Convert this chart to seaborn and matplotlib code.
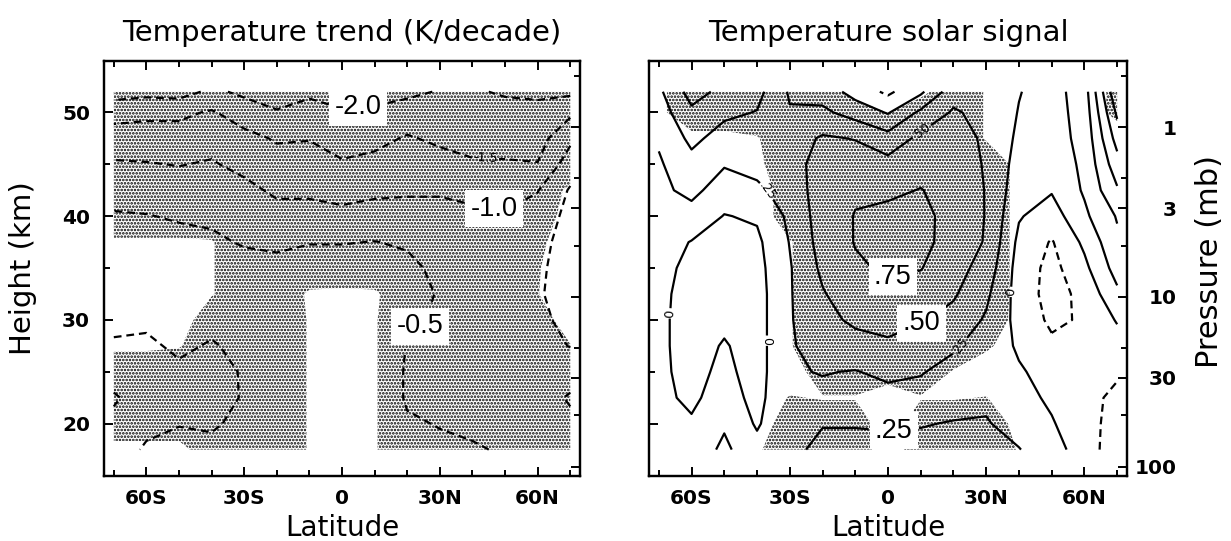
import numpy as np
import matplotlib
matplotlib.use("Agg")
import matplotlib.pyplot as plt
from matplotlib.ticker import MultipleLocator, FixedLocator, NullFormatter
import seaborn as sns

# ---------------------------------------------------------------- data grid
latitudes = [-70, -60, -50, -40, -30, -20, -10, 0, 10, 20, 30, 40, 50, 60, 70]
heights_km = [17.5, 20, 22.5, 25, 27.5, 30, 32.5, 35, 37.5, 40, 42.5, 45, 47.5, 50, 52]

# Temperature trend (K/decade): one row per latitude, values from bottom to top
trend = [
    [-0.90, -0.90, -1.05, -0.80, -0.55, -0.40, -0.35, -0.35, -0.40, -0.45, -0.70, -0.95, -1.25, -1.70, -2.20],
    [-0.40, -0.70, -0.80, -0.75, -0.60, -0.40, -0.30, -0.30, -0.35, -0.48, -0.72, -0.97, -1.30, -1.60, -2.15],
    [-0.35, -0.52, -0.65, -0.60, -0.40, -0.30, -0.25, -0.25, -0.35, -0.55, -0.75, -1.02, -1.30, -1.60, -2.20],
    [-0.40, -0.55, -0.65, -0.70, -0.55, -0.35, -0.25, -0.25, -0.40, -0.60, -0.80, -0.95, -1.20, -1.45, -1.90],
    [-0.35, -0.40, -0.47, -0.45, -0.35, -0.30, -0.25, -0.30, -0.55, -0.70, -0.85, -1.15, -1.35, -1.75, -2.10],
    [-0.30, -0.30, -0.30, -0.30, -0.28, -0.25, -0.25, -0.35, -0.60, -0.80, -1.10, -1.30, -1.55, -1.95, -2.30],
    [-0.20, -0.20, -0.20, -0.20, -0.20, -0.20, -0.20, -0.30, -0.52, -0.80, -1.10, -1.30, -1.52, -1.80, -2.10],
    [-0.15, -0.15, -0.15, -0.15, -0.15, -0.15, -0.18, -0.30, -0.52, -0.85, -1.20, -1.45, -1.70, -1.95, -2.20],
    [-0.15, -0.15, -0.15, -0.15, -0.15, -0.15, -0.18, -0.30, -0.49, -0.80, -1.10, -1.35, -1.65, -1.93, -2.15],
    [-0.40, -0.45, -0.55, -0.55, -0.52, -0.40, -0.35, -0.40, -0.55, -0.85, -1.05, -1.25, -1.45, -1.80, -2.10],
    [-0.42, -0.52, -0.60, -0.65, -0.62, -0.58, -0.53, -0.60, -0.70, -0.85, -1.05, -1.30, -1.60, -1.85, -1.97],
    [-0.45, -0.60, -0.70, -0.72, -0.72, -0.70, -0.70, -0.72, -0.80, -0.92, -1.10, -1.45, -1.65, -1.80, -1.95],
    [-0.55, -0.65, -0.75, -0.80, -0.80, -0.78, -0.75, -0.75, -0.80, -0.95, -1.20, -1.45, -1.70, -1.85, -2.05],
    [-0.65, -0.75, -0.80, -0.78, -0.70, -0.62, -0.55, -0.58, -0.65, -0.80, -1.02, -1.48, -1.70, -1.85, -2.10],
    [-0.75, -0.90, -1.05, -0.80, -0.48, -0.35, -0.30, -0.30, -0.30, -0.35, -0.45, -0.75, -1.10, -1.60, -2.10],
]
# Significance statistic of the trend (stippled where above 2)
trend_signif = [
    [1.5, 3, 3, 3, 1.75, 1, 1, 1, 1.8, 3, 3, 3, 3, 3, 3],
    [1.5, 3, 3, 3, 1.75, 1, 1, 1, 1.8, 3, 3, 3, 3, 3, 3],
    [1.5, 3, 3, 3, 1.9, 1.2, 1, 1, 1.8, 3, 3, 3, 3, 3, 3],
    [3, 3, 3, 3, 3, 3, 1.9, 1.9, 1.9, 3, 3, 3, 3, 3, 3],
    [3, 3, 3, 3, 3, 3, 3, 3, 3, 3, 3, 3, 3, 3, 3],
    [3, 3, 3, 3, 3, 3, 3, 3, 3, 3, 3, 3, 3, 3, 3],
    [1.9, 1.9, 1.9, 1.9, 1.9, 1.9, 1.8, 3, 3, 3, 3, 3, 3, 3, 3],
    [1, 1, 1, 1, 1, 1, 1.7, 3, 3, 3, 3, 3, 3, 3, 3],
    [1.9, 1.9, 1.9, 1.9, 1.9, 1.9, 1.8, 3, 3, 3, 3, 3, 3, 3, 3],
    [3, 3, 3, 3, 3, 3, 3, 3, 3, 3, 3, 3, 3, 3, 3],
    [3, 3, 3, 3, 3, 3, 3, 3, 3, 3, 3, 3, 3, 3, 3],
    [3, 3, 3, 3, 3, 3, 3, 3, 3, 3, 3, 3, 3, 3, 3],
    [3, 3, 3, 3, 3, 3, 3, 3, 3, 3, 3, 3, 3, 3, 3],
    [3, 3, 3, 3, 3, 3, 2.05, 2.11, 2.4, 3.4, 3, 3, 3, 3, 3],
    [3, 3, 3, 3, 2.1, 1, 1, 1, 1, 1, 1.7, 3, 3, 3, 3],
]

# Temperature solar signal (K): one row per latitude, values from bottom to top
solar = [
    [0.10, 0.08, 0.06, 0.05, 0.05, 0.05, 0.05, 0.06, 0.10, 0.15, 0.19, 0.22, 0.28, 0.38, 0.45],
    [0.10, 0.03, -0.05, -0.08, -0.10, -0.10, -0.08, -0.05, -0.01, 0.15, 0.32, 0.42, 0.56, 0.70, 0.85],
    [0.30, 0.22, 0.12, 0.06, 0.02, -0.05, -0.08, -0.08, -0.06, -0.01, 0.12, 0.27, 0.40, 0.55, 0.68],
    [0.08, -0.03, -0.08, -0.10, -0.10, -0.10, -0.10, -0.08, -0.05, 0.03, 0.20, 0.33, 0.42, 0.49, 0.58],
    [0.20, 0.22, 0.23, 0.23, 0.23, 0.23, 0.23, 0.23, 0.26, 0.30, 0.36, 0.40, 0.38, 0.27, 0.22],
    [0.30, 0.24, 0.20, 0.26, 0.33, 0.42, 0.48, 0.55, 0.60, 0.62, 0.62, 0.60, 0.53, 0.30, 0.15],
    [0.30, 0.24, 0.18, 0.24, 0.40, 0.55, 0.65, 0.72, 0.76, 0.76, 0.72, 0.62, 0.49, 0.15, -0.10],
    [0.30, 0.23, 0.18, 0.30, 0.45, 0.60, 0.70, 0.78, 0.85, 0.82, 0.70, 0.58, 0.35, -0.02, -0.30],
    [0.30, 0.24, 0.20, 0.26, 0.38, 0.52, 0.65, 0.76, 0.82, 0.82, 0.76, 0.65, 0.56, 0.30, -0.05],
    [0.28, 0.26, 0.18, 0.20, 0.27, 0.42, 0.53, 0.60, 0.65, 0.66, 0.65, 0.62, 0.58, 0.53, 0.40],
    [0.32, 0.27, 0.20, 0.15, 0.18, 0.22, 0.30, 0.40, 0.48, 0.49, 0.49, 0.48, 0.47, 0.42, 0.38],
    [0.26, 0.15, 0.08, 0.03, -0.04, -0.08, -0.10, -0.10, -0.06, 0.02, 0.10, 0.15, 0.20, 0.24, 0.26],
    [0.10, 0.02, -0.04, -0.10, -0.20, -0.30, -0.35, -0.33, -0.27, -0.12, 0.02, 0.10, 0.15, 0.15, 0.15],
    [-0.12, -0.15, -0.18, -0.22, -0.24, -0.22, -0.18, -0.06, 0.05, 0.20, 0.28, 0.30, 0.32, 0.35, 0.38],
    [-0.40, -0.35, -0.30, -0.22, -0.10, 0.02, 0.20, 0.35, 0.45, 0.52, 0.72, 0.90, 1.10, 1.30, 1.48],
]
# Significance statistic of the solar signal (stippled where above 2)
solar_signif = [
    [1, 1, 1, 1, 1, 1, 1, 1, 1, 1, 1, 1, 1, 1.67, 1.67],
    [1, 1, 1, 1, 1, 1, 1, 1, 1, 1, 1, 1, 1.6, 3, 3],
    [1, 1, 1, 1, 1, 1, 1, 1, 1, 1, 1, 1, 1.6, 3, 3],
    [1.8, 1, 1, 1, 1, 1, 1, 1, 1, 1, 1, 1.7, 1.9, 3, 3],
    [3, 3, 2.1, 1, 1.9, 1.9, 1.9, 1.9, 1.9, 3, 3, 3, 3, 3, 3],
    [3, 3, 1.9, 3, 3, 3, 3, 3, 3, 3, 3, 3, 3, 3, 3],
    [3, 3, 1.9, 3, 3, 3, 3, 3, 3, 3, 3, 3, 3, 3, 1.4],
    [1, 1, 1, 3, 3, 3, 3, 3, 3, 3, 3, 3, 3, 1.95, 1],
    [3, 3, 1.9, 3, 3, 3, 3, 3, 3, 3, 3, 3, 3, 3, 1.6],
    [3, 3, 1.9, 1.9, 3, 3, 3, 3, 3, 3, 3, 3, 3, 3, 3],
    [3, 3, 2.05, 1, 2.3, 3, 3, 3, 3, 3, 3, 3, 1.9, 1.9, 1.9],
    [1.9, 1.5, 1, 1, 1, 1.5, 1.6, 1.6, 1.6, 1.6, 1.6, 1.6, 1, 1, 1],
    [1, 1, 1, 1, 1, 1, 1, 1, 1, 1, 1, 1, 1, 1, 1],
    [1, 1, 1, 1, 1, 1, 1, 1, 1, 1, 1, 1, 1, 1, 1],
    [1, 1, 1, 1, 1, 1, 1, 1, 1, 1, 1, 1, 1, 2.5, 2.5],
]

lat_ticks = [-60, -30, 0, 30, 60]
lat_labels = ["60S", "30S", "0", "30N", "60N"]
height_ticks = [20, 30, 40, 50]
pressure_ticks = [1, 3, 10, 30, 100]
pressure_minor = [0.5, 2, 5, 20, 50]
trend_levels = [-2.0, -1.5, -1.0, -0.5]
solar_levels = [-0.5, -0.25, 0.0, 0.25, 0.5, 0.75, 1.0, 1.25, 1.5]
signif_threshold = 2.0

# contour label spots: level -> (big boxed labels, small inline labels)
trend_label_spots = {
    -2.0: ([(5, 50.2)], []),
    -1.5: ([], [(44, 45.6)]),
    -1.0: ([(46.6, 40.8)], []),
    -0.5: ([(23.8, 29.4)], []),
}
solar_label_spots = {
    0.0: ([], [(-64.5, 30.6), (-36.5, 28), (37.8, 32.7)]),
    0.25: ([(1.8, 19.3)], [(-36.5, 42.5), (22, 27.5)]),
    0.5: ([(10, 29.8)], [(10, 48.3)]),
    0.75: ([(1.2, 34.5)], []),
}


def height_from_pressure(p_mb):
    """Log-pressure height (km), scale height 7.1 km."""
    return 7.1 * np.log(935.0 / np.asarray(p_mb, dtype=float))


# ---------------------------------------------------------------- style
sns.set_theme(style="ticks", rc={
    "axes.edgecolor": "black",
    "axes.linewidth": 1.6,
    "axes.labelcolor": "black",
    "text.color": "black",
    "xtick.color": "black",
    "ytick.color": "black",
    "hatch.color": "black",
    "hatch.linewidth": 1.25,
})
plt.rcParams["font.family"] = ["DejaVu Sans"]

fig = plt.figure(figsize=(12.31, 5.41), dpi=100)
ax_t = fig.add_axes([0.0845, 0.121, 0.3867, 0.767])
ax_s = fig.add_axes([0.5272, 0.121, 0.3883, 0.767])

lat = np.array(latitudes, dtype=float)
z = np.array(heights_km, dtype=float)
DASH = (0, (3.5, 2.2))


def stipple(ax, sig):
    cf = ax.contourf(lat, z, np.array(sig).T, levels=[signif_threshold, 99],
                     colors=["white"], hatches=["....."])
    cf.set_edgecolor("black")
    cf.set_linewidth(0.0)
    if hasattr(cf, "set_hatchcolor"):
        cf.set_hatchcolor("black")
    return cf


def draw_field(ax, field, levels, spots, fmt):
    data = np.array(field).T
    for lv in levels:
        style = DASH if lv < 0 else "solid"
        cs = ax.contour(lat, z, data, levels=[lv], colors="black",
                        linewidths=1.6, linestyles=[style])
        big, small = spots.get(lv, ([], []))
        if small:
            cs.clabel(manual=small, inline=True, fontsize=9, fmt=fmt, inline_spacing=2)
        n0 = len(cs.labelTexts)
        if big:
            cs.clabel(manual=big, inline=True, fontsize=19.5, fmt=fmt, inline_spacing=5)
            for t in cs.labelTexts[n0:]:
                t.set_fontfamily("Liberation Sans")
                t.set_rotation(0)
                t.set_bbox(dict(boxstyle="square,pad=0.2", fc="white", ec="none"))
        for t in cs.labelTexts:
            t.set_zorder(6)


def fmt_trend(v):
    return f"{v:.1f}"


def fmt_solar(v):
    if abs(v) < 1e-9:
        return "0"
    return f"{v:.2f}".replace("0.", ".", 1)


stipple(ax_t, trend_signif)
draw_field(ax_t, trend, trend_levels, trend_label_spots, fmt_trend)
stipple(ax_s, solar_signif)
draw_field(ax_s, solar, solar_levels, solar_label_spots, fmt_solar)

# ---------------------------------------------------------------- axes
p_major = height_from_pressure(pressure_ticks)
p_minor = height_from_pressure(pressure_minor)

for ax, show_height_labels in ((ax_t, True), (ax_s, False)):
    ax.set_xlim(-73, 73)
    ax.set_ylim(15, 55)
    ax.set_xticks(lat_ticks)
    ax.set_xticklabels(lat_labels)
    ax.xaxis.set_minor_locator(MultipleLocator(10))
    ax.set_yticks(height_ticks)
    ax.yaxis.set_minor_locator(MultipleLocator(5))
    if not show_height_labels:
        ax.yaxis.set_major_formatter(NullFormatter())
    ax.tick_params(which="both", direction="in", top=True, bottom=True,
                   left=True, right=False, width=1.4)
    ax.tick_params(which="major", length=6.5, labelsize=14.5, pad=10)
    ax.tick_params(which="minor", length=4)
    for lbl in ax.get_xticklabels() + ax.get_yticklabels():
        lbl.set_fontweight("bold")
    ax.set_xlabel("Latitude", fontsize=20, labelpad=4)
    for sp in ax.spines.values():
        sp.set_linewidth(1.6)

    axp = ax.twinx()
    axp.set_ylim(15, 55)
    axp.yaxis.set_major_locator(FixedLocator(p_major))
    axp.yaxis.set_minor_locator(FixedLocator(p_minor))
    axp.tick_params(which="both", direction="in", width=1.4)
    axp.tick_params(which="major", length=6.5)
    axp.tick_params(which="minor", length=4)
    if show_height_labels:
        axp.yaxis.set_major_formatter(NullFormatter())
    else:
        axp.set_yticklabels([str(p) for p in pressure_ticks])
        axp.tick_params(which="major", labelsize=14.5, pad=36)
        for lbl in axp.get_yticklabels():
            lbl.set_fontweight("bold")
            lbl.set_horizontalalignment("right")
    for sp in axp.spines.values():
        sp.set_linewidth(1.6)

ax_t.set_ylabel("Height (km)", fontsize=21, labelpad=18)
ax_t.set_title("Temperature trend (K/decade)", fontsize=21, pad=14)
ax_s.set_title("Temperature solar signal", fontsize=21, pad=14)
fig.text(1210 / 1231, 1 - 262 / 541, "Pressure (mb)", rotation=90, fontsize=22,
         ha="center", va="center")

fig.savefig("out.png", dpi=100)
